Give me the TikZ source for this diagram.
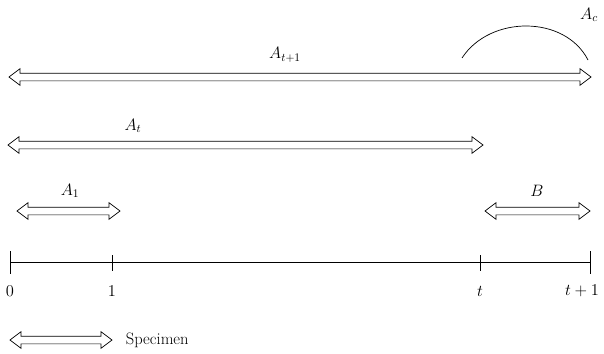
\RequirePackage{fix-cm}
\documentclass[tikz,border=0pt]{standalone}
\usepackage{amsmath,amssymb}
\usetikzlibrary{shapes.arrows,positioning}

\begin{document}
\begin{tikzpicture}[x=1pt, y=-1pt, line width=0.7pt,
    font=\fontsize{16.5}{19}\selectfont,
    span/.style={double arrow, draw, inner xsep=0pt, inner ysep=3.5pt,
      double arrow head extend=4.5pt, double arrow tip angle=74},
    lbl/.style={inner sep=1pt}]
    \useasboundingbox (0,0) rectangle (604,353);

    % Intervals
    \node[span, minimum height=582pt] (atone) at (300,77) {};
    \node[lbl] (latone) at (285,55) {$A_{t+1}$};
    \node[span, minimum height=475pt] (at) at (245.5,145) {};
    \node[lbl] (lat) at (133,126) {$A_t$};
    \node[span, minimum height=103pt] (aone) at (68.5,211) {};
    \node[lbl] (laone) at (70,191) {$A_1$};
    \node[span, minimum height=105pt] (b) at (537.5,211) {};
    \node[lbl] (lb) at (537,191) {$B$};

    % Arc for A_c
    \draw (462,58) .. controls (490,15) and (565,15) .. (588,60);
    \node[lbl] (lac) at (589,15) {$A_c$};

    % Time axis
    \coordinate (z) at (10,262);
    \coordinate (e) at (590,262);
    \draw (z) -- (e);
    \draw (10,251) -- (10,274);
    \draw (590,251) -- (590,274);
    \foreach \x in {112, 480} \draw (\x,255) -- (\x,271);
    \node[lbl] (tz) at (10,291) {$0$};
    \node[lbl] (tone) at (112,291) {$1$};
    \node[lbl] (tt) at (480,291) {$t$};
    \node[lbl] (ttone) at (582,291) {$t + 1$};

    % Legend
    \node[span, minimum height=102pt] (spec) at (61,340) {};
    \node[lbl, right=12pt of spec] (lspec) {Specimen};
\end{tikzpicture}
\end{document}
